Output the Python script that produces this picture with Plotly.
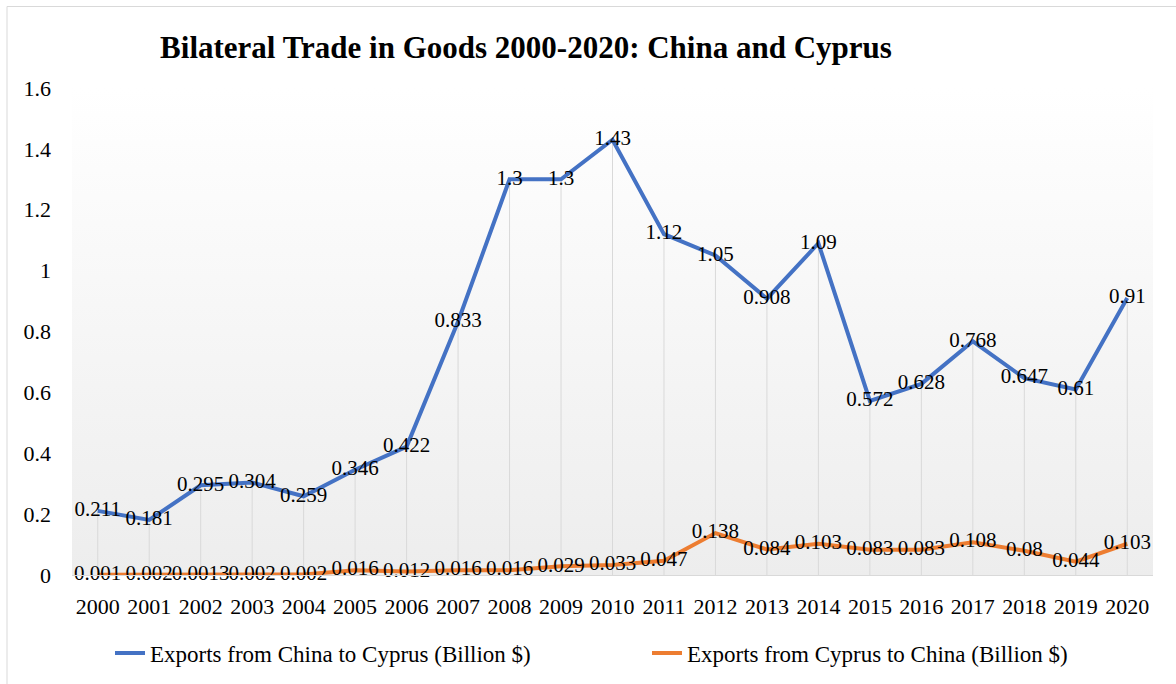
import plotly.graph_objects as go

years = list(range(2000, 2021))
china_to_cyprus = [0.211, 0.181, 0.295, 0.304, 0.259, 0.346, 0.422, 0.833, 1.3, 1.3,
                   1.43, 1.12, 1.05, 0.908, 1.09, 0.572, 0.628, 0.768, 0.647, 0.61, 0.91]
cyprus_to_china = [0.001, 0.002, 0.0013, 0.002, 0.002, 0.016, 0.012, 0.016, 0.016, 0.029,
                   0.033, 0.047, 0.138, 0.084, 0.103, 0.083, 0.083, 0.108, 0.08, 0.044, 0.103]
y_ticks = [0, 0.2, 0.4, 0.6, 0.8, 1, 1.2, 1.4, 1.6]

BLUE = "#4472C4"
ORANGE = "#ED7D31"
FONT = "Liberation Serif, Times New Roman, serif"
x_lo, x_hi = years[0] - 0.5, years[-1] + 0.5
y_lo, y_hi = y_ticks[0], y_ticks[-1]

fig = go.Figure()

# soft vertical gradient behind the plot area
fig.add_trace(go.Scatter(
    x=[x_lo, x_hi, x_hi, x_lo, x_lo], y=[y_lo, y_lo, y_hi, y_hi, y_lo],
    mode="lines", line=dict(width=0), fill="toself",
    fillgradient=dict(type="vertical", colorscale=[[0, "#ededed"], [1, "#ffffff"]]),
    hoverinfo="skip", showlegend=False,
))

# drop lines from each export value down to the axis
dx, dy = [], []
for yr, v in zip(years, china_to_cyprus):
    dx += [yr, yr, None]
    dy += [0, v, None]
fig.add_trace(go.Scatter(x=dx, y=dy, mode="lines", line=dict(color="#d9d9d9", width=1),
                         hoverinfo="skip", showlegend=False))

fig.add_trace(go.Scatter(
    x=years, y=china_to_cyprus, mode="lines+text", cliponaxis=False,
    name="Exports from China to Cyprus (Billion $)", legend="legend",
    line=dict(color=BLUE, width=4),
    text=[f"{v:g}" for v in china_to_cyprus], textposition="middle center",
    textfont=dict(family=FONT, size=21, color="#000000"),
))
fig.add_trace(go.Scatter(
    x=years, y=cyprus_to_china, mode="lines+text", cliponaxis=False,
    name="Exports from Cyprus to China (Billion $)", legend="legend2",
    line=dict(color=ORANGE, width=4),
    text=[f"{v:g}" for v in cyprus_to_china], textposition="middle center",
    textfont=dict(family=FONT, size=21, color="#000000"),
))

legend_common = dict(orientation="h", xanchor="left", xref="container",
                     y=1 - 653 / 684, yanchor="middle", yref="container",
                     font=dict(family=FONT, size=23), itemwidth=30,
                     bgcolor="rgba(0,0,0,0)")

fig.update_layout(
    width=1176, height=684,
    margin=dict(l=72, r=23, t=88, b=106),
    paper_bgcolor="#ffffff", plot_bgcolor="rgba(0,0,0,0)",
    font=dict(family=FONT, size=22, color="#000000"),
    title=dict(text="<b>Bilateral Trade in Goods 2000-2020: China and Cyprus</b>",
               font=dict(family=FONT, size=31, color="#000000"),
               x=526 / 1176, xanchor="center", xref="container",
               y=1 - 47 / 684, yanchor="middle", yref="container"),
    xaxis=dict(range=[x_lo, x_hi], tickvals=years, ticktext=[str(y) for y in years],
               showgrid=False, zeroline=False, showline=True, linecolor="#d9d9d9",
               linewidth=1, ticks="", tickfont=dict(size=22), ticklabelstandoff=12),
    yaxis=dict(range=[y_lo, y_hi], tickvals=y_ticks, ticktext=[f"{t:g}" for t in y_ticks],
               showgrid=False, zeroline=False, showline=False, ticks="",
               tickfont=dict(size=22), ticklabelstandoff=20),
    legend=dict(x=110 / 1176, **legend_common),
    legend2=dict(x=647 / 1176, **legend_common),
    shapes=[dict(type="rect", xref="paper", yref="paper",
                 x0=-65 / 1081, x1=1.05, y0=-0.3, y1=1 + 82 / 490,
                 line=dict(color="#d9d9d9", width=1), fillcolor="rgba(0,0,0,0)", layer="below")],
)

fig.write_html("out.html")
